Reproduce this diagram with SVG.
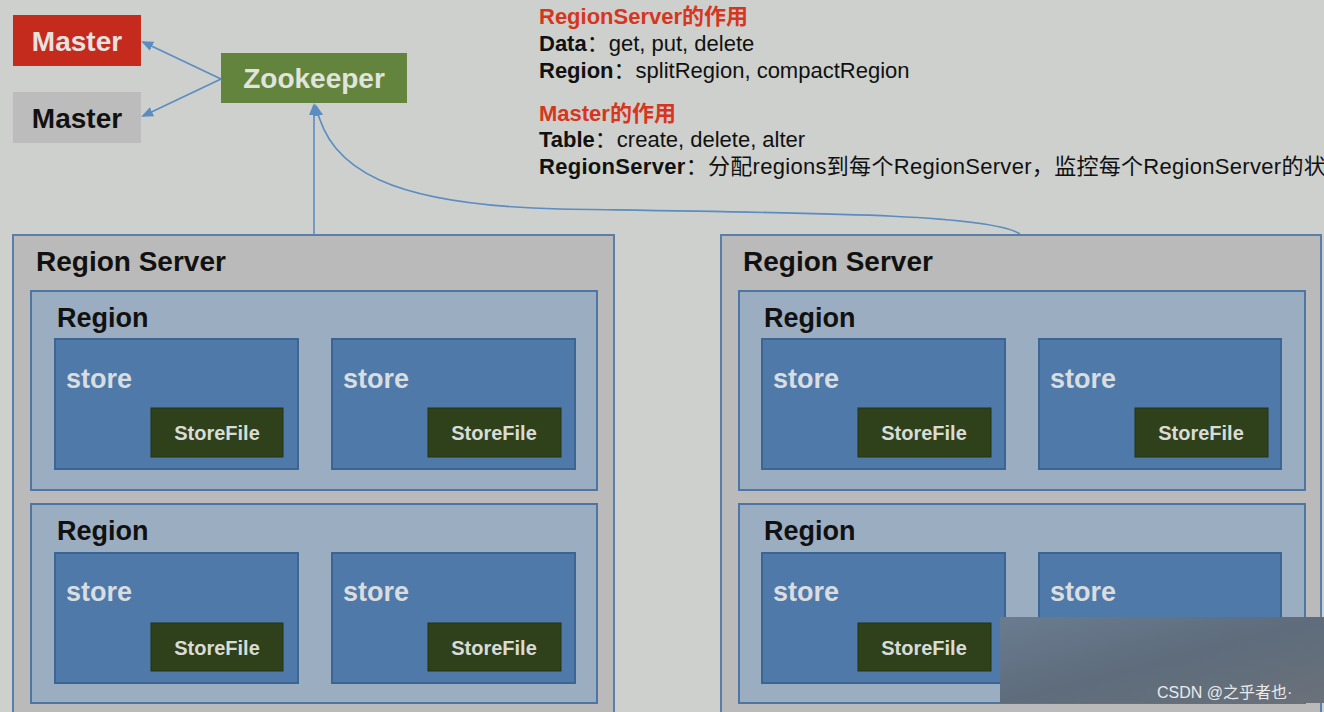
<svg xmlns="http://www.w3.org/2000/svg" width="1324" height="712" viewBox="0 0 1324 712">
<defs>
<marker id="ah" markerWidth="12" markerHeight="10" refX="10" refY="5" orient="auto" markerUnits="userSpaceOnUse">
<path d="M0,0 L12,5 L0,10 Z" fill="#5b8cc2"/>
</marker>
<linearGradient id="wm" x1="0" y1="0" x2="1" y2="1">
<stop offset="0" stop-color="#6b7c90"/>
<stop offset="0.5" stop-color="#5e6c7c"/>
<stop offset="1" stop-color="#6a717a"/>
</linearGradient>
</defs>
<style>
.t{font-family:"Liberation Sans",Arial,sans-serif;font-weight:bold}
.srv{fill:#bababa;stroke:#5a7ea6;stroke-width:2}
.reg{fill:#9badc0;stroke:#4d76a4;stroke-width:2}
.sto{fill:#4f79a9;stroke:#3c6594;stroke-width:2}
.sf{fill:#2f411b;stroke:#24350f;stroke-width:1}
.h1{font-size:28px;fill:#111}
.h2{font-size:27px;fill:#111}
.st{font-size:27px;fill:#d9dde0}
.sft{font-size:20px;fill:#d9dcd6;text-anchor:middle}
.conn{fill:none;stroke:#5b8cc2;stroke-width:1.6}
.info{font-family:"Liberation Sans",Arial,"Noto Sans CJK SC",sans-serif;font-size:22px;fill:#111}
</style>
<rect width="1324" height="712" fill="#cdd0cd"/>

<g id="master1"><rect x="13" y="15" width="128" height="51" fill="#c42b1d"/><text class="t" x="77" y="51" font-size="28" fill="#e6e2e0" text-anchor="middle">Master</text></g>
<g id="master2"><rect x="13" y="92" width="128" height="51" fill="#bcbcbc"/><text class="t" x="77" y="128" font-size="28" fill="#111" text-anchor="middle">Master</text></g>
<g id="zookeeper"><rect x="221" y="53" width="186" height="50" fill="#63843d"/><text class="t" x="314" y="88" font-size="28" fill="#e0e4dc" text-anchor="middle">Zookeeper</text></g>

<g id="info">
<text class="info" x="539" y="24" font-weight="bold" style="fill:#d63620">RegionServer的作用</text>
<text class="info" x="539" y="51"><tspan font-weight="bold">Data</tspan>：get, put, delete</text>
<text class="info" x="539" y="78"><tspan font-weight="bold">Region</tspan>：splitRegion, compactRegion</text>
<text class="info" x="539" y="121" font-weight="bold" style="fill:#d63620">Master的作用</text>
<text class="info" x="539" y="147"><tspan font-weight="bold">Table</tspan>：create, delete, alter</text>
<text class="info" x="539" y="174" letter-spacing="0.3"><tspan font-weight="bold">RegionServer</tspan>：分配regions到每个RegionServer，监控每个RegionServer的状</text>
</g>

<g id="server1">
<rect class="srv" x="13" y="235" width="601" height="490"/>
<text class="t h1" x="36" y="271">Region Server</text>
<rect class="reg" x="31" y="291" width="566" height="199"/>
<text class="t h2" x="57" y="327">Region</text>
<rect class="sto" x="55" y="339" width="243" height="130"/><text class="t st" x="66" y="388">store</text>
<rect class="sf" x="151" y="408" width="132" height="49"/><text class="t sft" x="217" y="440">StoreFile</text>
<rect class="sto" x="332" y="339" width="243" height="130"/><text class="t st" x="343" y="388">store</text>
<rect class="sf" x="428" y="408" width="133" height="49"/><text class="t sft" x="494" y="440">StoreFile</text>
<rect class="reg" x="31" y="504" width="566" height="199"/>
<text class="t h2" x="57" y="540">Region</text>
<rect class="sto" x="55" y="553" width="243" height="130"/><text class="t st" x="66" y="601">store</text>
<rect class="sf" x="151" y="623" width="132" height="48"/><text class="t sft" x="217" y="655">StoreFile</text>
<rect class="sto" x="332" y="553" width="243" height="130"/><text class="t st" x="343" y="601">store</text>
<rect class="sf" x="428" y="623" width="133" height="48"/><text class="t sft" x="494" y="655">StoreFile</text>
</g>

<g id="server2">
<rect class="srv" x="721" y="235" width="600" height="490"/>
<text class="t h1" x="743" y="271">Region Server</text>
<rect class="reg" x="739" y="291" width="566" height="199"/>
<text class="t h2" x="764" y="327">Region</text>
<rect class="sto" x="762" y="339" width="243" height="130"/><text class="t st" x="773" y="388">store</text>
<rect class="sf" x="858" y="408" width="133" height="49"/><text class="t sft" x="924" y="440">StoreFile</text>
<rect class="sto" x="1039" y="339" width="242" height="130"/><text class="t st" x="1050" y="388">store</text>
<rect class="sf" x="1135" y="408" width="133" height="49"/><text class="t sft" x="1201" y="440">StoreFile</text>
<rect class="reg" x="739" y="504" width="566" height="199"/>
<text class="t h2" x="764" y="540">Region</text>
<rect class="sto" x="762" y="553" width="243" height="130"/><text class="t st" x="773" y="601">store</text>
<rect class="sf" x="858" y="623" width="133" height="48"/><text class="t sft" x="924" y="655">StoreFile</text>
<rect class="sto" x="1039" y="553" width="242" height="130"/><text class="t st" x="1050" y="601">store</text>
</g>

<g id="connectors">
<line class="conn" x1="221" y1="79" x2="143" y2="42" marker-end="url(#ah)"/>
<line class="conn" x1="221" y1="79" x2="143" y2="116" marker-end="url(#ah)"/>
<line class="conn" x1="314" y1="235" x2="314" y2="105" marker-end="url(#ah)"/>
<path class="conn" d="M1020,234 C990,214 820,213 560,209 C390,205 330,170 316,106" marker-end="url(#ah)"/>
</g>

<g id="watermark">
<rect x="1000" y="617" width="324" height="86" fill="url(#wm)"/>
<text x="1157" y="698" font-family="'Liberation Sans','Noto Sans CJK SC',sans-serif" font-size="16" fill="#e8eaec">CSDN @之乎者也·</text>
</g>
</svg>
